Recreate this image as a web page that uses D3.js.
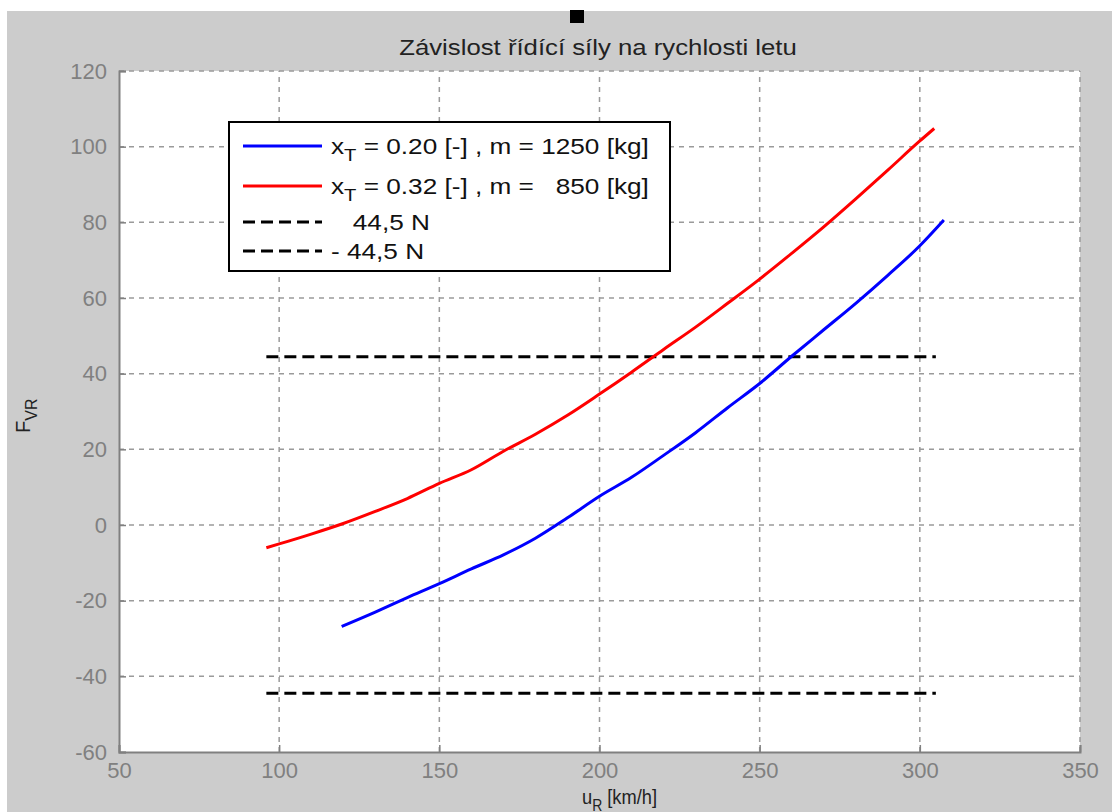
<!DOCTYPE html>
<html><head><meta charset="utf-8">
<script src="https://cdn.jsdelivr.net/npm/d3@7"></script>
<style>body{margin:0;background:#fff}svg{display:block}text{font-family:"Liberation Sans",Arial,sans-serif}</style>
</head><body>
<svg id="c" width="1112" height="812"></svg>
<script>
// ---- data ----
const xTicks = [50, 100, 150, 200, 250, 300, 350];
const yTicks = [-60, -40, -20, 0, 20, 40, 60, 80, 100, 120];
const redX = [96, 100, 110, 120, 130, 140, 150, 160, 170, 180, 190, 200, 210, 220, 230, 240, 250, 260, 270, 280, 290, 300, 304.5];
const redY = [-6, -5, -2.4, 0.4, 3.6, 7, 11, 14.6, 19.5, 24, 29, 34.6, 40.4, 46.4, 52.3, 58.6, 65, 71.8, 78.8, 86.2, 93.8, 101.5, 104.8];
const blueX = [119.5, 130, 140, 150, 160, 170, 180, 190, 200, 210, 220, 230, 240, 250, 260, 270, 280, 290, 300, 307.5];
const blueY = [-26.8, -23, -19.2, -15.5, -11.6, -7.9, -3.5, 1.9, 7.6, 12.6, 18.4, 24.4, 31, 37.4, 44.6, 51.6, 58.6, 66, 73.8, 80.6];
const limitX = [96, 305];
const limitVals = [44.5, -44.5];
const legendLabels = [
  {main: "x", sub: "T", rest: " = 0.20 [-] , m = 1250 [kg]"},
  {main: "x", sub: "T", rest: " = 0.32 [-] , m =   850 [kg]"},
  {main: "   44,5 N", sub: "", rest: ""},
  {main: "- 44,5 N", sub: "", rest: ""}
];
const titleText = "Závislost řídící síly na rychlosti letu";

// ---- layout ----
const svg = d3.select("#c");
const L = 119, R = 1080, T = 71, B = 752;
const x = d3.scaleLinear().domain([50, 350]).range([L, R]);
const y = d3.scaleLinear().domain([-60, 120]).range([B, T]);

svg.append("rect").attr("x", 7).attr("y", 11).attr("width", 1105).attr("height", 801).attr("fill", "#cccccc");
svg.append("rect").attr("x", 570).attr("y", 10).attr("width", 14).attr("height", 13).attr("fill", "#000");
svg.append("rect").attr("x", L).attr("y", T).attr("width", R - L).attr("height", B - T).attr("fill", "#fff");

// grid
const grid = svg.append("g").attr("stroke", "#9a9a9a").attr("stroke-width", 1.5).attr("stroke-dasharray", "5,5");
grid.selectAll(".vx").data(xTicks.slice(1)).join("line")
  .attr("x1", d => x(d)).attr("x2", d => x(d)).attr("y1", B).attr("y2", T);
grid.selectAll(".hy").data(yTicks.slice(1)).join("line")
  .attr("y1", d => y(d)).attr("y2", d => y(d)).attr("x1", L).attr("x2", R);

// axes
const fmt = d => String(d);
const gx = svg.append("g").attr("transform", `translate(0,${B})`)
  .call(d3.axisBottom(x).tickValues(xTicks).tickFormat(fmt).tickSize(-7).tickPadding(10));
const gy = svg.append("g").attr("transform", `translate(${L},0)`)
  .call(d3.axisLeft(y).tickValues(yTicks).tickFormat(fmt).tickSize(-7).tickPadding(12));
[gx, gy].forEach(g => {
  g.select(".domain").attr("stroke", "#808080").attr("stroke-width", 2);
  g.selectAll(".tick line").attr("stroke", "#808080").attr("stroke-width", 1.5);
  g.selectAll(".tick text").attr("fill", "#808080").attr("font-size", 22).attr("font-family", "Liberation Sans, Arial, sans-serif");
});

// limit lines
limitVals.forEach(v => {
  svg.append("line").attr("x1", x(limitX[0])).attr("x2", x(limitX[1]))
    .attr("y1", y(v)).attr("y2", y(v))
    .attr("stroke", "#000").attr("stroke-width", 3).attr("stroke-dasharray", "12,6");
});

// curves
const line = d3.line().x(d => x(d[0])).y(d => y(d[1])).curve(d3.curveMonotoneX);
svg.append("path").datum(redX.map((v, i) => [v, redY[i]])).attr("d", line)
  .attr("fill", "none").attr("stroke", "#ff0000").attr("stroke-width", 3);
svg.append("path").datum(blueX.map((v, i) => [v, blueY[i]])).attr("d", line)
  .attr("fill", "none").attr("stroke", "#0000ff").attr("stroke-width", 3);

// title (horizontally stretched like the reference)
svg.append("text").attr("transform", "translate(598,55) scale(1.17,1)").attr("text-anchor", "middle")
  .attr("font-size", 22).attr("fill", "#222").text(titleText);

// axis labels
const xl = svg.append("text").attr("transform", "translate(582,804) scale(0.87,1)").attr("font-size", 21).attr("fill", "#222").attr("xml:space", "preserve");
xl.append("tspan").text("u");
xl.append("tspan").attr("font-size", 16).attr("dy", 7).text("R");
xl.append("tspan").attr("dy", -7).text(" [km/h]");

const yl = svg.append("text").attr("transform", "translate(30,433) rotate(-90)").attr("font-size", 20).attr("fill", "#222");
yl.append("tspan").text("F");
yl.append("tspan").attr("font-size", 16).attr("dy", 7).text("VR");

// legend
const lg = svg.append("g");
lg.append("rect").attr("x", 229).attr("y", 122).attr("width", 441).attr("height", 149)
  .attr("fill", "#fff").attr("stroke", "#000").attr("stroke-width", 2);
const rowY = [146, 186, 222, 251];
const styles = [
  {c: "#0000ff", dash: null}, {c: "#ff0000", dash: null},
  {c: "#000", dash: "12,6"}, {c: "#000", dash: "12,6"}
];
legendLabels.forEach((lab, i) => {
  lg.append("line").attr("x1", 243).attr("x2", 322).attr("y1", rowY[i]).attr("y2", rowY[i])
    .attr("stroke", styles[i].c).attr("stroke-width", 3).attr("stroke-dasharray", styles[i].dash);
  const t = lg.append("text").attr("transform", `translate(331,${rowY[i] + 8}) scale(1.19,1)`).attr("font-size", 22)
    .attr("fill", "#111").attr("xml:space", "preserve");
  t.append("tspan").text(lab.main);
  if (lab.sub) {
    t.append("tspan").attr("font-size", 17).attr("dy", 7).text(lab.sub);
    t.append("tspan").attr("dy", -7).text(lab.rest);
  }
});
</script>
</body></html>
